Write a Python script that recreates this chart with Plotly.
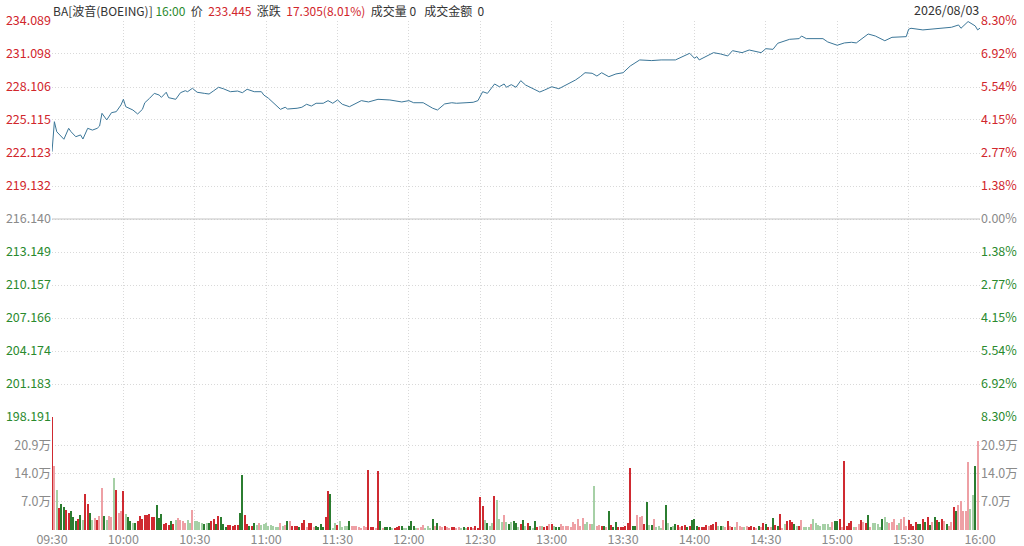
import plotly.graph_objects as go

# BA intraday, prev close and header info
prev_close = 216.140
last_price = 233.445
header_name = "BA[波音(BOEING)]"
header_time = "16:00"
header_change = "17.305(8.01%)"
trade_date = "2026/08/03"

# price line: minutes since 09:30, price
price_min = [0, 1, 2, 3, 5, 7, 8, 10, 12, 13,
             15, 17, 19, 20, 21, 23, 25, 27, 29, 30,
             31, 34, 36, 38, 39, 41, 43, 45, 46, 48,
             49, 52, 54, 56, 57, 59, 61, 64, 66, 68,
             70, 72, 75, 78, 80, 82, 85, 88, 89, 91,
             94, 96, 98, 99, 103, 105, 107, 109, 111, 114,
             116, 118, 120, 122, 125, 128, 130, 133, 137, 142,
             147, 150, 152, 156, 160, 162, 165, 168, 170, 174,
             177, 179, 181, 183, 184, 186, 188, 190, 191, 193,
             195, 197, 199, 202, 205, 207, 210, 213, 217, 220,
             222, 224, 227, 229, 231, 234, 237, 240, 243, 245,
             247, 252, 256, 262, 265, 268, 270, 271, 272, 275,
             278, 281, 284, 286, 290, 293, 296, 298, 300, 303,
             305, 310, 314, 315, 317, 321, 324, 326, 330, 333,
             336, 338, 343, 346, 350, 353, 357, 359, 360, 361,
             366, 369, 373, 378, 381, 382, 385, 388, 389, 390]
price_val = [222.24, 224.96, 224.05, 223.85, 223.37, 224.36, 224.05, 223.60, 223.76, 223.39,
             224.36, 224.20, 224.36, 224.57, 225.72, 225.12, 225.78, 225.87, 226.48, 226.99,
             226.32, 226.02, 225.66, 226.08, 226.68, 227.08, 227.53, 227.38, 227.17, 227.63,
             227.14, 226.99, 227.59, 227.77, 227.68, 227.99, 227.63, 227.53, 227.47, 227.77,
             228.08, 227.95, 227.68, 227.74, 227.59, 227.90, 227.68, 227.68, 227.38, 227.08,
             226.48, 226.08, 226.27, 226.11, 226.18, 226.27, 226.54, 226.38, 226.63, 226.63,
             226.87, 226.63, 226.93, 226.54, 226.32, 226.68, 226.87, 226.75, 226.99, 226.93,
             226.75, 226.87, 226.68, 226.68, 226.18, 226.02, 226.57, 226.68, 226.63, 226.68,
             226.72, 226.87, 227.68, 227.53, 227.83, 228.38, 228.13, 228.38, 228.08, 228.32,
             228.08, 228.68, 228.29, 227.99, 227.65, 227.83, 228.13, 227.95, 228.38, 228.74,
             229.04, 229.40, 229.35, 229.10, 229.40, 229.04, 229.29, 229.40, 230.01, 230.26,
             230.56, 230.50, 230.56, 230.56, 230.86, 231.16, 230.71, 230.86, 230.56, 230.92,
             231.22, 231.10, 230.92, 231.40, 231.22, 231.46, 231.31, 231.22, 231.58, 231.52,
             232.07, 232.43, 232.49, 232.73, 232.49, 232.52, 232.49, 232.19, 231.89, 232.10,
             232.16, 232.10, 232.91, 232.73, 232.30, 232.61, 232.67, 232.67, 233.34, 233.43,
             233.28, 233.34, 233.43, 233.52, 233.73, 233.43, 234.04, 233.64, 233.28, 233.445]

# volume per minute (万), one list per half hour
# colour codes: R red, r light red, G green, g light green
vol_0930 = [27.9, 15.8, 10.0, 5.4, 6.5, 5.8, 5.0, 4.3, 4.8, 3.2, 2.1, 2.7, 3.7, 2.5, 8.9,
            6.5, 4.3, 2.5, 3.0, 2.5, 3.5, 10.4, 3.5, 2.5, 3.5, 3.3, 12.8, 10.0, 4.3, 4.6]
clr_0930 = "RrgRGGRRGGGRGgRRGgrRrrGgrrgRrr"
vol_1000 = [9.75, 4.0, 3.2, 2.3, 1.8, 1.7, 2.2, 3.5, 2.7, 3.75, 3.75, 4.0, 3.2, 3.2, 6.25,
            2.9, 4.0, 1.5, 1.8, 1.25, 2.25, 1.5, 2.5, 2.9, 2.5, 2.3, 1.7, 2.5, 1.8, 5.0]
clr_1000 = "RgGGgGRRRRRRRRGGGRRRGRgrrrrggr"
vol_1030 = [2.25, 2.25, 2.0, 1.7, 1.4, 1.7, 1.7, 2.1, 2.75, 1.5, 3.5, 3.2, 1.5, 0.8, 1.25,
            1.25, 1.0, 1.25, 1.25, 4.3, 13.6, 3.75, 1.4, 1.0, 1.0, 1.8, 1.25, 1.8, 1.25, 1.4]
clr_1030 = "ggggGgGRRGRGGGRRRRRGGRRGRGgrgg"
vol_1100 = [1.7, 1.0, 1.25, 1.0, 0.8, 0.8, 1.7, 1.0, 1.25, 2.1, 2.1, 1.0, 1.0, 1.0, 0.7,
            1.7, 2.5, 0.7, 1.8, 1.8, 0.7, 1.0, 0.8, 1.5, 0.7, 3.3, 9.6, 9.0, 0.4, 1.8]
clr_1100 = "ggggggrgrGrRRRGRRrRRrGGGGRRGgg"
vol_1130 = [1.25, 2.1, 0.7, 1.0, 1.0, 2.1, 1.0, 1.0, 1.0, 0.7, 0.4, 1.0, 0.7, 14.8, 0.7,
            0.7, 0.4, 14.5, 2.3, 0.4, 0.7, 0.7, 0.7, 0.4, 0.4, 0.7, 1.0, 1.0, 0.4, 0.4]
clr_1130 = "RggggGrrrrrrrRRRrRGrGGGgRRRGgg"
vol_1200 = [1.0, 2.1, 1.0, 0.4, 0.4, 0.7, 1.25, 0.4, 1.0, 0.4, 2.7, 1.0, 1.7, 1.0, 0.7,
            1.0, 0.7, 0.4, 0.7, 0.7, 0.4, 0.7, 0.4, 0.7, 0.4, 0.7, 0.7, 0.4, 1.0, 0.4]
clr_1200 = "GGGgrrrgggGrGrrRrrRRrrgGgRRrRR"
vol_1230 = [8.2, 6.0, 2.5, 1.7, 1.0, 1.7, 8.3, 7.5, 2.75, 2.0, 3.7, 2.0, 1.5, 2.0, 2.3,
            1.7, 0.8, 1.5, 2.5, 1.0, 1.7, 1.0, 0.4, 2.25, 0.7, 1.0, 1.0, 0.7, 1.0, 1.5]
clr_1230 = "RRgGggRgggrgGgGGgRGgRGgGRrgRRr"
vol_1300 = [1.5, 1.0, 0.7, 0.7, 1.5, 1.0, 1.0, 1.0, 0.7, 2.0, 1.5, 2.8, 1.0, 3.0, 1.5,
            2.0, 1.5, 1.5, 10.8, 1.0, 1.25, 1.0, 1.0, 0.7, 4.6, 1.25, 0.7, 2.0, 0.7, 0.7]
clr_1300 = "RgGGrrrrrrrrrrggrggrrRGrGRGGRR"
vol_1330 = [0.7, 1.0, 1.7, 15.2, 1.0, 1.0, 3.7, 3.3, 3.5, 1.5, 6.8, 1.25, 1.25, 2.75, 0.7,
            1.0, 0.4, 2.5, 6.1, 1.8, 0.7, 1.0, 1.5, 1.25, 0.7, 1.0, 1.25, 0.7, 1.0, 2.5]
clr_1330 = "RRRRGGrrrRGgGrgggrGgGgGRrRRGRG"
vol_1400 = [2.8, 1.0, 0.7, 0.7, 0.7, 1.25, 1.0, 1.25, 1.5, 2.0, 1.0, 1.0, 1.0, 0.7, 2.25,
            1.0, 0.7, 0.7, 2.0, 1.0, 0.7, 0.7, 1.0, 0.7, 1.0, 0.7, 0.4, 1.0, 0.7, 1.7]
clr_1400 = "GGRRRRrRRRgGgrRrRgrrrgrRRRrGrR"
vol_1430 = [1.5, 0.7, 0.7, 3.0, 1.25, 1.0, 4.0, 0.4, 1.5, 2.1, 2.5, 2.0, 1.5, 1.0, 1.0,
            2.5, 0.7, 0.7, 0.7, 1.5, 2.7, 1.8, 1.25, 1.0, 1.5, 1.5, 1.5, 0.7, 2.0, 2.2]
clr_1430 = "GRrGRGRrgRRRGgRrgggrggggggggrG"
vol_1500 = [2.3, 2.7, 0.7, 17.0, 1.0, 1.7, 2.1, 0.7, 0.7, 1.5, 2.5, 2.0, 1.7, 3.7, 0.7,
            1.7, 1.7, 1.5, 0.7, 2.7, 3.2, 2.0, 1.7, 2.0, 2.8, 1.25, 1.7, 2.7, 3.2, 1.0]
clr_1500 = "GRrRRRRgrrRrRGrggggGggrrrrgrrr"
vol_1530 = [2.5, 1.5, 1.0, 2.0, 1.5, 1.5, 2.7, 2.0, 3.2, 1.25, 2.0, 3.3, 2.5, 2.0, 2.7,
            2.3, 1.5, 1.0, 2.0, 5.6, 4.8, 6.1, 7.1, 4.6, 4.6, 16.7, 5.3, 8.75, 15.8, 22.0]
clr_1530 = "RRRRGGRGRGrGRGRrGrrRGrrrrrggGr"

# axis ticks
price_ticks = [234.089, 231.098, 228.106, 225.115, 222.123, 219.132, 216.140,
               213.149, 210.157, 207.166, 204.174, 201.183, 198.191]
pct_labels = ["8.30%", "6.92%", "5.54%", "4.15%", "2.77%", "1.38%", "0.00%",
              "1.38%", "2.77%", "4.15%", "5.54%", "6.92%", "8.30%"]
vol_ticks = [6.97, 13.95, 20.92]
vol_labels = ["7.0万", "14.0万", "20.9万"]
vol_max = 27.9
time_labels = ["09:30", "10:00", "10:30", "11:00", "11:30", "12:00", "12:30",
               "13:00", "13:30", "14:00", "14:30", "15:00", "15:30", "16:00"]

RED = "#d1262c"
GREEN = "#2a8a2e"
GRAY = "#8a8a8a"
GRID = "#d9d9d9"
bar_colors = {"R": "#cf2a31", "r": "#eea0a5", "G": "#2b7d30", "g": "#a6d0a6"}

volumes = (vol_0930 + vol_1000 + vol_1030 + vol_1100 + vol_1130 + vol_1200 + vol_1230
           + vol_1300 + vol_1330 + vol_1400 + vol_1430 + vol_1500 + vol_1530)
codes = (clr_0930 + clr_1000 + clr_1030 + clr_1100 + clr_1130 + clr_1200 + clr_1230
         + clr_1300 + clr_1330 + clr_1400 + clr_1430 + clr_1500 + clr_1530)
minutes = list(range(len(volumes)))
colors = [bar_colors[c] for c in codes]


def tick_color(p):
    if abs(p - prev_close) < 1e-6:
        return GRAY
    return RED if p > prev_close else GREEN


def span(text, color):
    return f"<span style='color:{color}'>{text}</span>"


left_text = [span(f"{p:.3f}", tick_color(p)) for p in price_ticks]
right_text = [span(t, tick_color(p)) for p, t in zip(price_ticks, pct_labels)]

fig = go.Figure()
fig.add_scatter(
    x=price_min,
    y=price_val,
    mode="lines",
    line=dict(color="#3b7698", width=1),
    hoverinfo="skip",
)
fig.add_scatter(x=[0], y=[prev_close], yaxis="y2", mode="markers",
                marker_opacity=0, hoverinfo="skip")
fig.add_bar(
    x=minutes,
    y=volumes,
    marker=dict(color=colors, line_width=0),
    width=0.5,
    yaxis="y3",
    hoverinfo="skip",
)
fig.add_scatter(x=[0], y=[0], yaxis="y4", mode="markers",
                marker_opacity=0, hoverinfo="skip")

tick_font = dict(family="Noto Sans CJK SC", size=12.5, color=GRAY)
split = 0.222
dots = "1px,2px"

fig.update_layout(
    width=1024,
    height=546,
    margin=dict(l=52, r=44, t=21, b=16),
    plot_bgcolor="white",
    paper_bgcolor="white",
    showlegend=False,
    bargap=0,
    font=dict(family="Noto Sans CJK SC", size=12, color="#333"),
    xaxis=dict(
        range=[0, 390],
        tickvals=[i * 30 for i in range(len(time_labels))],
        ticktext=time_labels,
        showgrid=True, griddash=dots, gridcolor=GRID, gridwidth=1,
        zeroline=False, showline=False, ticks="",
        tickfont=tick_font, anchor="y3", automargin=False,
    ),
    yaxis=dict(
        domain=[split, 1], range=[price_ticks[-1], price_ticks[0]],
        tickvals=price_ticks, ticktext=left_text,
        showgrid=True, griddash=dots, gridcolor=GRID,
        zeroline=False, showline=False, ticks="", tickfont=tick_font,
        automargin=False,
    ),
    yaxis2=dict(
        overlaying="y", side="right", anchor="x",
        range=[price_ticks[-1], price_ticks[0]],
        tickvals=price_ticks, ticktext=right_text,
        showgrid=False, zeroline=False, showline=False, ticks="", tickfont=tick_font,
        automargin=False,
    ),
    yaxis3=dict(
        domain=[0, split], range=[0, vol_max],
        tickvals=vol_ticks, ticktext=vol_labels,
        showgrid=True, griddash=dots, gridcolor=GRID,
        zeroline=False, showline=False, ticks="", tickfont=tick_font,
        automargin=False,
    ),
    yaxis4=dict(
        overlaying="y3", side="right", anchor="x", range=[0, vol_max],
        tickvals=vol_ticks, ticktext=vol_labels,
        showgrid=False, zeroline=False, showline=False, ticks="", tickfont=tick_font,
        automargin=False,
    ),
)

# previous close reference line
fig.add_shape(type="line", xref="paper", yref="y", x0=0, x1=1,
              y0=prev_close, y1=prev_close, line=dict(color="#c4c4c4", width=1))

nb = "\u00a0"
header = (
    f"{header_name}{nb}{span(header_time, GREEN)}{nb}{nb}价{nb}{nb}"
    f"{span(f'{last_price:.3f}', RED)}{nb}{nb}涨跌{nb}{nb}{span(header_change, RED)}"
    f"{nb}{nb}成交量{nb}0{nb}{nb}{nb}成交金额{nb}{nb}0"
)
fig.add_annotation(xref="paper", yref="paper", x=0, y=1, xanchor="left", yanchor="bottom",
                   text=header, showarrow=False, font=dict(size=12, color="#333"),
                   borderpad=0, yshift=1)
fig.add_annotation(xref="paper", yref="paper", x=1, y=1, xanchor="right", yanchor="bottom",
                   text=trade_date, showarrow=False, font=dict(size=12.5, color="#333"),
                   borderpad=0, yshift=1)

# the page's default body margin would shift the whole chart by 8px
fig.write_html(
    "out.html",
    config={"displayModeBar": False},
    post_script="document.body.style.margin='0px';",
)
